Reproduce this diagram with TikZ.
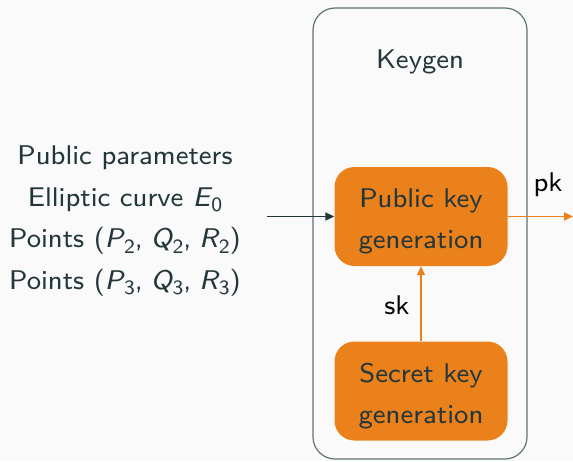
\documentclass[tikz,border=0pt]{standalone}
\usepackage{fontspec}
\setsansfont{lmsans8-regular.otf}[ItalicFont=lmsans8-oblique.otf]
\renewcommand{\familydefault}{\sfdefault}
\usetikzlibrary{arrows.meta}
\definecolor{mdark}{HTML}{23373B}
\definecolor{morange}{HTML}{EB811B}
\definecolor{mframe}{HTML}{5F7376}
\definecolor{mbg}{HTML}{FAFAFA}
% sans-serif italic symbol with a subscript
\newcommand{\symsub}[2]{\textit{#1}\kern-0.04em\raisebox{-0.2em}{\fontsize{6}{6}\selectfont #2}}
\newcommand{\triple}[1]{(\symsub{P}{#1},\kern0.3em\symsub{Q}{#1},\kern0.3em\symsub{R}{#1})}
\tikzset{
  txt/.style={font=\fontsize{8}{12.3}\selectfont, text=mdark, scale=3.38, transform shape},
  genbox/.style={fill=morange, rounded corners=20pt, minimum width=173pt,
    minimum height=99pt, inner sep=0pt},
  flow/.style={line width=1.9pt, -{Triangle[length=9pt,width=8pt]}},
  lbl/.style={txt, text=black},
}
\begin{document}
\begin{tikzpicture}[x=1pt,y=-1pt]
  \fill[mbg] (0,0) rectangle (573,461);
  \useasboundingbox (0,0) rectangle (573,461);
  % key generation frame
  \draw[mframe, line width=1.2pt, rounded corners=22pt] (313,8) rectangle (527,459);
  \node[txt] (title) at (420,62) {Keygen};
  \node[genbox] (pub) at (421,216.5) {};
  \node[txt, align=center] at ([yshift=-5pt]pub.center) {Public key\\generation};
  \node[genbox] (sec) at (421,391) {};
  \node[txt, align=center] at ([yshift=-5pt]sec.center) {Secret key\\generation};
  % public parameters
  \node[txt, align=center] (params) at (125,221)
    {Public parameters\\Elliptic curve \symsub{E}{0}\\Points \triple{2}\\Points \triple{3}};
  \coordinate (in) at (267,216.5);
  \coordinate (out) at (573,216.5);
  \draw[flow, mdark] (in) -- (pub.west);
  \draw[flow, morange] (pub.east) -- (out);
  \node[lbl] at (548,185) {pk};
  \draw[flow, morange] (sec.north) -- (pub.south);
  \node[lbl] at (397,305) {sk};
\end{tikzpicture}
\end{document}
